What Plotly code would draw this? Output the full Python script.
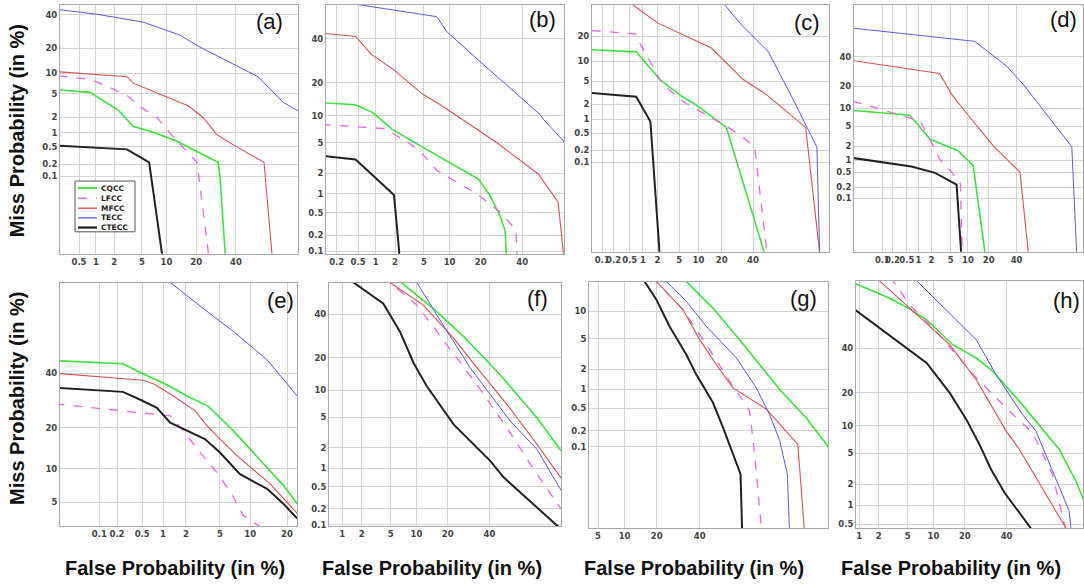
import plotly.graph_objects as go
from statistics import NormalDist

ND = NormalDist()


def probit(vals):
    return [ND.inv_cdf(v / 100.0) for v in vals]


SYSTEMS = ["CQCC", "LFCC", "MFCC", "TECC", "CTECC"]
PANEL_LABELS = ["(a)", "(b)", "(c)", "(d)", "(e)", "(f)", "(g)", "(h)"]

# ---- data: (false alarm %, miss %) per system, per panel ----
PANEL_A = {
    "CQCC": ([0.2, 0.79, 2.3, 3.8, 6.4, 13, 30.2, 31.2, 33.9, 34.5],
             [5.8, 5.3, 2.7, 1.34, 1.07, 0.66, 0.22, 0.1, 0.0005, 0.0001]),
    "LFCC": ([0.2, 0.79, 1.9, 3.2, 4.7, 7.8, 11.8, 16.4, 20.3, 21.6, 25.2, 25.8],
             [9.2, 8.3, 6.0, 4.6, 3.1, 1.96, 0.83, 0.38, 0.22, 0.054, 0.0006, 0.0001]),
    "MFCC": ([0.2, 3.1, 3.8, 16.8, 22.9, 29.6, 38.3, 56.4, 61, 62.3],
             [10.5, 9.0, 7.3, 3.2, 2.0, 0.91, 0.56, 0.22, 0.0004, 0.0001]),
    "TECC": ([0.2, 1.04, 5.2, 14, 21.6, 52.9, 67, 74.7, 76],
             [43.7, 40.5, 35.2, 27.1, 20.6, 9.0, 3.7, 2.6, 2.3]),
    "CTECC": ([0.2, 3.1, 6.2, 8.9, 9.0],
              [0.53, 0.44, 0.22, 0.0004, 0.0001]),
}
PANEL_B = {
    "CQCC": ([0.1, 0.45, 0.91, 1.8, 4.5, 19.1, 23.9, 28.5, 31, 31.5, 31.5],
             [13.4, 12.8, 10.7, 7.2, 4.6, 1.67, 0.94, 0.44, 0.24, 0.1, 0.01]),
    "LFCC": ([0.1, 0.47, 1.41, 2.6, 4.2, 7.2, 18.5, 28.5, 36.6, 37, 37],
             [8.1, 7.7, 7.3, 5.5, 4.2, 2.2, 1.0, 0.51, 0.25, 0.1, 0.01]),
    "MFCC": ([0.1, 0.45, 0.86, 1.9, 4.9, 7.8, 26.9, 48.9, 60, 62.8, 63.5],
             [43, 41.2, 32.1, 25.3, 15.9, 12.9, 5.05, 1.97, 0.74, 0.097, 0.01]),
    "TECC": ([0.1, 0.54, 7.2, 9.3, 19.7, 49.9, 51.8, 62.8, 64],
             [61, 57.9, 51.7, 43.8, 28.9, 10.3, 9.2, 5.3, 4.8]),
    "CTECC": ([0.1, 0.45, 0.91, 1.5, 1.93, 2.3, 2.35],
              [3.45, 3.1, 1.86, 1.19, 0.96, 0.1, 0.01]),
}
PANEL_C = {
    "CQCC": ([0.05, 0.71, 2.2, 5.5, 8.3, 22.5, 49],
             [14, 13.2, 5.4, 2.8, 2.14, 0.68, 0.0001]),
    "LFCC": ([0.05, 0.71, 0.85, 2.56, 6.2, 20.6, 31.9, 41.2, 50.6],
             [23.1, 21.2, 16.9, 4.45, 2.14, 0.80, 0.44, 0.24, 0.0001]),
    "MFCC": ([0.40, 0.6, 2.05, 15, 32.9, 50, 77, 84.3],
             [43.2, 39, 27.3, 14.7, 5.4, 3.0, 0.68, 0.0001]),
    "TECC": ([18.9, 21.6, 31.9, 51.2, 69.1, 82.9, 84.2],
             [43.2, 39, 26.3, 13.4, 2.5, 0.24, 0.0001]),
    "CTECC": ([0.05, 0.71, 1.44, 2.22],
              [3.2, 2.76, 0.91, 0.0001]),
}
PANEL_D = {
    "CQCC": ([0.01, 0.6, 1.84, 6.8, 12.1, 20],
             [9.2, 7.7, 2.84, 1.62, 0.74, 0.0001]),
    "LFCC": ([0.01, 0.13, 1.07, 1.84, 3.0, 5.2, 7.5, 8.2],
             [12.7, 9.0, 6.2, 2.84, 1.06, 0.51, 0.25, 0.0001]),
    "MFCC": ([0.01, 3.0, 5.2, 8.4, 22.8, 42.8, 52.3],
             [37.2, 27.9, 15.7, 9.6, 2.07, 0.51, 0.0001]),
    "TECC": ([0.01, 12.8, 32.2, 45.6, 82, 85.2],
             [62.8, 52.4, 33, 21, 1.97, 0.0001]),
    "CTECC": ([0.01, 0.66, 2.4, 6.4, 8.3],
              [1.12, 0.70, 0.49, 0.24, 0.0001]),
}
PANEL_E = {
    "CQCC": ([0.015, 0.25, 0.52, 1.12, 2.06, 3.7, 6.9, 10, 14, 18.8, 23.6],
             [45.3, 44, 39.7, 35.4, 30.9, 27.2, 19.1, 14.2, 10.3, 7.2, 4.85]),
    "LFCC": ([0.015, 1.25, 1.86, 3.0, 4.8, 6.9, 8.6, 11.8, 13.5],
             [28, 23.8, 19.1, 13.4, 9.0, 5.6, 3.7, 2.93, 2.6]),
    "MFCC": ([0.015, 0.52, 0.77, 1.38, 2.6, 3.6, 5.0, 7.5, 10, 14.9, 23.6],
             [40, 37.1, 35.4, 30.9, 25.5, 20.6, 16.8, 12.7, 10.3, 7.4, 3.9]),
    "TECC": ([0.91, 1.25, 3.6, 6.9, 14, 23.6],
             [79, 76.6, 66, 57.8, 45.7, 30.9]),
    "CTECC": ([0.015, 0.25, 0.46, 0.82, 1.25, 2.06, 3.4, 5.0, 8.0, 14, 18.8, 23.6],
              [34.1, 32.5, 29.6, 26.6, 21.6, 19.1, 16.8, 13.4, 9.0, 6.7, 4.85, 3.45]),
}
PANEL_F = {
    "CQCC": ([5.5, 6.8, 16, 26.8, 45.9, 66.1, 77.5],
             [60, 56.8, 41.3, 28.9, 14.2, 4.96, 1.81]),
    "LFCC": ([4.1, 4.9, 10.1, 19.7, 33.4, 49.7, 66.1, 77.5],
             [60, 56.8, 44.7, 25.2, 11.4, 3.7, 0.8, 0.2]),
    "MFCC": ([4.1, 4.9, 11.8, 22.4, 33.4, 49.7, 66.1, 77.5],
             [60, 56.8, 44.7, 28.2, 16.4, 7.1, 2.24, 0.69]),
    "TECC": ([9.2, 10.1, 16, 30, 51.6, 66.1, 77.5],
             [60, 56.8, 39.5, 16.4, 4.5, 1.9, 0.43]),
    "CTECC": ([1.1, 1.5, 4.0, 6.5, 9.3, 12.8, 22.4, 40.4, 47.8, 75.7, 78],
              [60, 56.8, 45.6, 31.2, 18.1, 11, 4.1, 1.29, 0.71, 0.097, 0.078]),
}
PANEL_G = {
    "CQCC": ([31.5, 33.1, 47.1, 61.5, 71.5, 80, 88.6, 93.3, 94],
             [20.9, 18.9, 10.8, 4.85, 2.3, 1.0, 0.34, 0.1, 0.08]),
    "LFCC": ([18.9, 19.9, 31.5, 45.3, 56.2, 66.6, 69.1, 74],
             [20.9, 18.9, 10.4, 3.65, 1.34, 0.45, 0.071, 0.0001]),
    "MFCC": ([18.9, 19.9, 31.5, 40, 49, 58, 74.5, 86.2, 88.9],
             [20.9, 18.9, 10.4, 4.85, 2.3, 1.06, 0.48, 0.11, 0.0001]),
    "TECC": ([22.4, 23.9, 33.1, 43.6, 59.8, 69.9, 75.9, 80, 82.8, 84],
             [20.9, 18.9, 12.6, 6.9, 2.85, 1.06, 0.39, 0.13, 0.027, 0.0001]),
    "CTECC": ([14.8, 15.7, 19.9, 25.3, 33.1, 38.2, 47.1, 52.6, 62, 63.4],
              [20.9, 18.9, 13, 6.9, 3.15, 1.67, 0.62, 0.23, 0.027, 0.0001]),
}
PANEL_H = {
    "CQCC": ([0.85, 2.74, 5.05, 8.4, 15.6, 24.8, 32.7, 47, 68.6, 76.4, 79.8],
             [72.6, 66, 60.8, 54.7, 41.7, 35, 28.8, 17, 5.6, 2.25, 1.17]),
    "LFCC": ([3.0, 3.2, 5.3, 10.7, 24.8, 39.7, 54.4, 65.2, 71.9],
             [75.6, 73.8, 62.4, 48.6, 25.9, 14.9, 8.5, 2.76, 0.39]),
    "MFCC": ([1.82, 2.04, 5.3, 14.6, 24.8, 39.7, 47, 72.6],
             [75.6, 73.8, 60.8, 41.7, 25.1, 8.9, 5.6, 0.39]),
    "TECC": ([5.8, 6.4, 24.8, 34.4, 48.8, 56.3, 73.4, 74.4],
             [75.6, 73.8, 44.3, 27.3, 12.9, 8.9, 0.82, 0.39]),
    "CTECC": ([0.85, 5.05, 8.4, 14.6, 20.6, 26.2, 31.8, 38.8, 54.4],
              [59.9, 39.2, 32.6, 19.9, 11.6, 6.4, 3.2, 1.54, 0.39]),
}
PANELS = [PANEL_A, PANEL_B, PANEL_C, PANEL_D, PANEL_E, PANEL_F, PANEL_G, PANEL_H]

# tick labels (percent) per panel
X_TICKS = [
    [0.5, 1, 2, 5, 10, 20, 40],
    [0.2, 0.5, 1, 2, 5, 10, 20, 40],
    [0.1, 0.2, 0.5, 1, 2, 5, 10, 20, 40],
    [0.1, 0.2, 0.5, 1, 2, 5, 10, 20, 40],
    [0.1, 0.2, 0.5, 1, 2, 5, 10, 20],
    [1, 2, 5, 10, 20, 40],
    [5, 10, 20, 40],
    [1, 2, 5, 10, 20, 40],
]
Y_TICKS = [
    [0.1, 0.2, 0.5, 1, 2, 5, 10, 20, 40],
    [0.1, 0.2, 0.5, 1, 2, 5, 10, 20, 40],
    [0.1, 0.2, 0.5, 1, 2, 5, 10, 20],
    [0.1, 0.2, 0.5, 1, 2, 5, 10, 20, 40],
    [5, 10, 20, 40],
    [0.1, 0.2, 0.5, 1, 2, 5, 10, 20, 40],
    [0.1, 0.2, 0.5, 1, 2, 5, 10],
    [0.5, 1, 2, 5, 10, 20, 40],
]

# ---- layout (positions / styles) ----
W, H = 1084, 586
# axis ranges in probit units
X_RANGES = [(-2.857, 0.664), (-3.03, 0.337), (-3.286, 1.178), (-3.692, 1.152),
            (-3.561, -0.722), (-2.514, 0.754), (-1.768, 1.502), (-2.372, 0.821)]
Y_RANGES = [(-4.456, -0.078), (-3.126, 0.199), (-4.689, -0.279), (-4.169, 0.792),
            (-1.902, 0.724), (-3.111, 0.171), (-4.183, -0.882), (-2.632, 0.637)]
# plot boxes in pixels: (left, right, top, bottom)
BOXES = [(60, 298, 5, 255), (326, 564, 5, 255), (592, 829, 5, 253), (854, 1083, 5, 253),
         (60, 297, 284, 529), (329, 561, 284, 529), (589, 828, 283, 531), (856, 1083, 282, 531)]
LABEL_POS = [(269, 22), (542, 20), (807, 23), (1063, 20),
             (280, 302), (537, 300), (803, 300), (1066, 302)]

STYLE = {
    "CQCC": dict(color="#3ee23e", width=1.6, dash="solid"),
    "LFCC": dict(color="#e866e8", width=1.3, dash="dash"),
    "MFCC": dict(color="#e05050", width=1.1, dash="solid"),
    "TECC": dict(color="#5a5ae0", width=1.0, dash="solid"),
    "CTECC": dict(color="#222222", width=2.0, dash="solid"),
}


def fmt(v):
    return ("%g" % v)


fig = go.Figure()
layout = dict(
    width=W, height=H, margin=dict(l=0, r=0, t=0, b=0),
    paper_bgcolor="white", plot_bgcolor="white",
    showlegend=False,
    font=dict(family="Liberation Sans, Arial, sans-serif", color="#222"),
)
annotations = []
shapes = []
tickfont = dict(family="DejaVu Sans, sans-serif", size=8.5, color="#444", weight="bold")

for i, panel in enumerate(PANELS):
    n = i + 1
    xa = "x" if n == 1 else "x%d" % n
    ya = "y" if n == 1 else "y%d" % n
    for s in SYSTEMS:
        fa, miss = panel[s]
        st = STYLE[s]
        fig.add_trace(go.Scatter(
            x=probit(fa), y=probit(miss), mode="lines", name=s,
            line=dict(color=st["color"], width=st["width"], dash=st["dash"]),
            xaxis=xa, yaxis=ya, showlegend=False,
        ))
    l, r, t, b = BOXES[i]
    axis_common = dict(showgrid=True, gridcolor="#d4d4d4", gridwidth=1,
                       showline=True, linecolor="#a8a8a8", linewidth=1, mirror=True,
                       zeroline=False, ticks="", tickfont=tickfont)
    layout["xaxis" if n == 1 else "xaxis%d" % n] = dict(
        domain=[l / W, r / W], range=list(X_RANGES[i]), anchor=ya, tickangle=0,
        tickmode="array", tickvals=probit(X_TICKS[i]), ticktext=[fmt(v) for v in X_TICKS[i]],
        **axis_common)
    layout["yaxis" if n == 1 else "yaxis%d" % n] = dict(
        domain=[1 - b / H, 1 - t / H], range=list(Y_RANGES[i]), anchor=xa,
        tickmode="array", tickvals=probit(Y_TICKS[i]), ticktext=[fmt(v) for v in Y_TICKS[i]],
        **axis_common)
    lx, ly = LABEL_POS[i]
    annotations.append(dict(text=PANEL_LABELS[i], x=lx / W, y=1 - ly / H, xref="paper", yref="paper",
                            showarrow=False, xanchor="center", yanchor="middle",
                            font=dict(size=22, color="#111", family="Liberation Sans, Arial, sans-serif")))

title_font = dict(size=20, color="#111", family="Liberation Sans, Arial, sans-serif", weight="bold")
for cy in (132, 401):
    annotations.append(dict(text="Miss Probability (in %)", x=17 / W, y=1 - cy / H, xref="paper", yref="paper",
                            showarrow=False, textangle=-90, xanchor="center", yanchor="middle", font=title_font))
for cx in (175, 432, 694, 951):
    annotations.append(dict(text="False Probability (in %)", x=cx / W, y=1 - 571 / H, xref="paper", yref="paper",
                            showarrow=False, xanchor="center", yanchor="middle", font=title_font))

# compact legend box inside panel (a)
LEG_BOX = (75, 135, 182, 233)
LEG_ROWS = [189, 199.3, 209.3, 219, 228.7]
shapes.append(dict(type="rect", xref="paper", yref="paper",
                   x0=LEG_BOX[0] / W, x1=LEG_BOX[1] / W, y0=1 - LEG_BOX[3] / H, y1=1 - LEG_BOX[2] / H,
                   line=dict(color="#555", width=1), fillcolor="white", layer="above"))
for s, yy in zip(SYSTEMS, LEG_ROWS):
    st = STYLE[s]
    shapes.append(dict(type="line", xref="paper", yref="paper",
                       x0=78 / W, x1=97 / W, y0=1 - yy / H, y1=1 - yy / H, layer="above",
                       line=dict(color=st["color"], width=st["width"] + 0.3,
                                 dash="dash" if st["dash"] == "dash" else "solid")))
    annotations.append(dict(text=s, x=99 / W, y=1 - yy / H, xref="paper", yref="paper",
                            showarrow=False, xanchor="left", yanchor="middle",
                            font=dict(size=7.5, family="DejaVu Sans, sans-serif", color="#222", weight="bold")))

layout["annotations"] = annotations
layout["shapes"] = shapes
fig.update_layout(**layout)
fig.write_html("out.html")
